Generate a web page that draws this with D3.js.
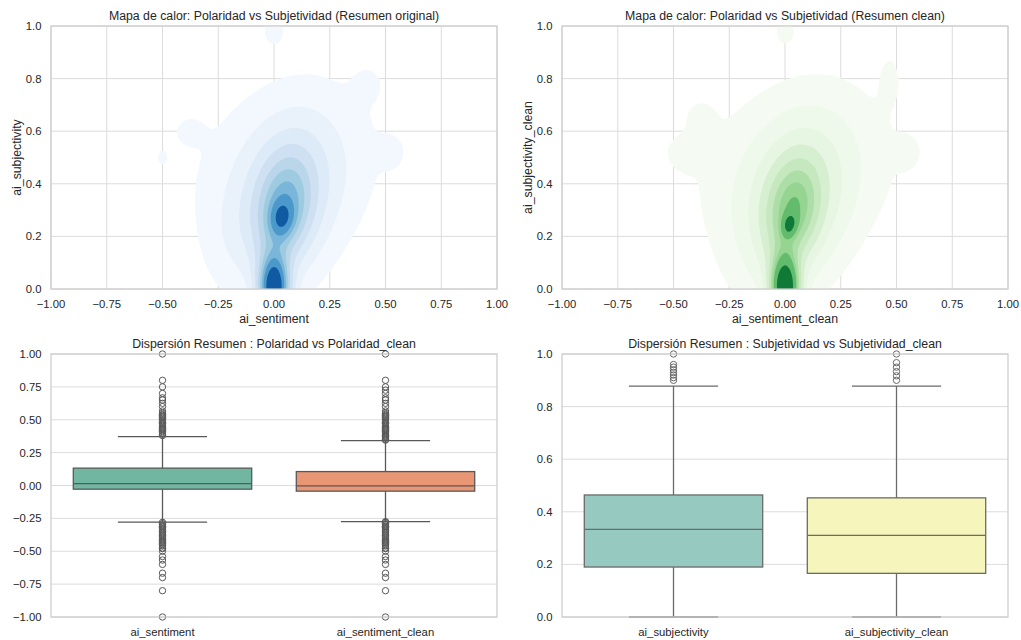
<!DOCTYPE html>
<html>
<head>
<meta charset="utf-8">
<script src="https://cdn.jsdelivr.net/npm/d3@7"></script>
<style>
  body { margin: 0; background: #ffffff; }
  text { font-family: "Liberation Sans", Arial, sans-serif; fill: #262626; }
</style>
</head>
<body>
<svg id="chart" width="1021" height="640"></svg>
<script>
// ---------- data ----------
const polarityTicks = [-1, -0.75, -0.5, -0.25, 0, 0.25, 0.5, 0.75, 1];
const subjectivityTicks = [0, 0.2, 0.4, 0.6, 0.8, 1];
const boxPolarityTicks = [-1, -0.75, -0.5, -0.25, 0, 0.25, 0.5, 0.75, 1];
const boxSubjectivityTicks = [0, 0.2, 0.4, 0.6, 0.8, 1];

// Bivariate density of (polarity, subjectivity) as Gaussian components:
// [centerX, centerY, spreadX, spreadY, correlation, weight]
const densityOriginal = [
  [0.000, 0.000, 0.046, 0.090, 0.0, 0.170],
  [0.000, 0.010, 0.028, 0.055, 0.0, 0.030],
  [0.035, 0.270, 0.034, 0.045, 0.1, 0.030],
  [0.045, 0.300, 0.080, 0.130, 0.2, 0.200],
  [0.050, 0.350, 0.150, 0.190, 0.25, 0.330],
  [0.060, 0.470, 0.300, 0.200, 0.15, 0.120],
  [-0.20, 0.200, 0.080, 0.120, 0.0, 0.010],
  [-0.38, 0.600, 0.050, 0.040, 0.0, 0.0025],
  [0.420, 0.780, 0.050, 0.050, 0.0, 0.0031],
  [0.520, 0.520, 0.040, 0.040, 0.0, 0.0028],
  [-0.50, 0.500, 0.015, 0.020, 0.0, 0.0005],
  [0.000, 0.980, 0.035, 0.040, 0.0, 0.0026]
];
const densityClean = [
  [0.000, 0.000, 0.043, 0.087, 0.0, 0.170],
  [0.000, 0.010, 0.028, 0.055, 0.0, 0.030],
  [0.020, 0.245, 0.020, 0.028, 0.2, 0.014],
  [0.035, 0.290, 0.080, 0.130, 0.2, 0.200],
  [0.045, 0.340, 0.155, 0.190, 0.25, 0.340],
  [0.050, 0.470, 0.320, 0.200, 0.15, 0.130],
  [-0.45, 0.520, 0.060, 0.050, 0.0, 0.0040],
  [-0.38, 0.650, 0.050, 0.050, 0.0, 0.0030],
  [0.470, 0.800, 0.035, 0.070, 0.0, 0.0030],
  [0.540, 0.520, 0.040, 0.040, 0.0, 0.0028],
  [0.000, 0.980, 0.030, 0.035, 0.0, 0.0020]
];
const densityLevelCount = 10;
const densityThresh = 0.05;

// Box plot summaries
const polarityCategories = ["ai_sentiment", "ai_sentiment_clean"];
const polarityQ1 = [-0.028, -0.043];
const polarityMedian = [0.015, -0.003];
const polarityQ3 = [0.132, 0.106];
const polarityWhiskerLow = [-0.279, -0.274];
const polarityWhiskerHigh = [0.372, 0.342];
const polarityOutliersOriginal = [
  0.38, 0.39, 0.40, 0.41, 0.4167, 0.425, 0.433, 0.44, 0.45, 0.46, 0.47, 0.475, 0.48, 0.49, 0.50,
  0.51, 0.52, 0.525, 0.533, 0.54, 0.55, 0.5667, 0.60, 0.625, 0.65, 0.6667, 0.70, 0.75, 0.80, 1.00,
  -0.28, -0.29, -0.30, -0.31, -0.3125, -0.32, -0.33, -0.34, -0.35, -0.36, -0.375, -0.38, -0.39,
  -0.40, -0.41, -0.4167, -0.425, -0.433, -0.44, -0.45, -0.46, -0.475, -0.48, -0.50, -0.54,
  -0.5667, -0.60, -0.6667, -0.70, -0.80, -1.00
];
const polarityOutliersClean = [
  0.345, 0.35, 0.36, 0.37, 0.375, 0.38, 0.39, 0.40, 0.41, 0.4167, 0.425, 0.433, 0.44, 0.45, 0.46,
  0.47, 0.475, 0.48, 0.49, 0.50, 0.51, 0.52, 0.525, 0.533, 0.54, 0.55, 0.5667, 0.60, 0.625, 0.65,
  0.6667, 0.70, 0.725, 0.75, 0.80, 1.00,
  -0.275, -0.28, -0.29, -0.30, -0.31, -0.3125, -0.32, -0.33, -0.34, -0.35, -0.36, -0.375, -0.38,
  -0.39, -0.40, -0.41, -0.4167, -0.425, -0.433, -0.44, -0.45, -0.46, -0.475, -0.48, -0.50, -0.54,
  -0.5667, -0.60, -0.6667, -0.70, -0.80, -1.00
];

const subjectivityCategories = ["ai_subjectivity", "ai_subjectivity_clean"];
const subjectivityQ1 = [0.19, 0.166];
const subjectivityMedian = [0.333, 0.31];
const subjectivityQ3 = [0.464, 0.453];
const subjectivityWhiskerLow = [0.0, 0.0];
const subjectivityWhiskerHigh = [0.878, 0.878];
const subjectivityOutliersOriginal = [0.90, 0.91, 0.92, 0.93, 0.94, 0.95, 0.96, 1.00];
const subjectivityOutliersClean = [0.90, 0.917, 0.933, 0.95, 0.967, 1.00];

// ---------- styling ----------
const bluesStops = ["#f7fbff","#deebf7","#c6dbef","#9ecae1","#6baed6","#4292c6","#2171b5","#08519c","#08306b"];
const greensStops = ["#f7fcf5","#e5f5e0","#c7e9c0","#a1d99b","#74c476","#41ab5d","#238b45","#006d2c","#00441b"];
const set2Boxes = ["#71b6a1", "#e99675"];
const set3Boxes = ["#96cac1", "#f6f6bc"];
const gridColor = "#dcdcdc";
const spineColor = "#cccccc";
const titleSize = 12.3, labelSize = 12.3, tickSize = 11.3;

const svg = d3.select("#chart");

function colormap(stops) {
  return d3.scaleLinear()
    .domain(stops.map((_, i) => i / (stops.length - 1)))
    .range(stops)
    .interpolate(d3.interpolateRgb)
    .clamp(true);
}

function fmt2(v) { return d3.format(".2f")(v).replace("-", "\u2212"); }
function fmt1(v) { return d3.format(".1f")(v).replace("-", "\u2212"); }

let clipId = 0;
function frame(box) {
  const g = svg.append("g");
  const id = "clip" + (clipId++);
  g.append("clipPath").attr("id", id).append("rect")
    .attr("x", box.left).attr("y", box.top)
    .attr("width", box.right - box.left).attr("height", box.bottom - box.top);
  return { g, id };
}

function spines(g, box) {
  g.append("rect")
    .attr("x", box.left).attr("y", box.top)
    .attr("width", box.right - box.left).attr("height", box.bottom - box.top)
    .attr("fill", "none").attr("stroke", spineColor).attr("stroke-width", 1.25);
}

function title(g, box, text, y) {
  g.append("text").attr("x", (box.left + box.right) / 2).attr("y", y)
    .attr("text-anchor", "middle").attr("font-size", titleSize).text(text);
}

// ---------- KDE panels ----------
function kdePanel(box, comps, stops, titleText, xLabel, yLabel) {
  const { g, id } = frame(box);
  const x = d3.scaleLinear().domain([-1, 1]).range([box.left, box.right]);
  const y = d3.scaleLinear().domain([0, 1]).range([box.bottom, box.top]);

  // grid
  g.append("g").selectAll("line").data(polarityTicks).join("line")
    .attr("x1", d => x(d)).attr("x2", d => x(d))
    .attr("y1", box.top).attr("y2", box.bottom)
    .attr("stroke", gridColor).attr("stroke-width", 1);
  g.append("g").selectAll("line").data(subjectivityTicks).join("line")
    .attr("y1", d => y(d)).attr("y2", d => y(d))
    .attr("x1", box.left).attr("x2", box.right)
    .attr("stroke", gridColor).attr("stroke-width", 1);

  // density evaluated on a regular grid
  const x0 = -1.15, x1 = 1.15, y0 = -0.15, y1 = 1.15;
  const nx = 231, ny = 261;
  const sx = (x1 - x0) / (nx - 1), sy = (y1 - y0) / (ny - 1);
  const values = new Float64Array(nx * ny);
  for (let j = 0; j < ny; j++) {
    const yy = y1 - j * sy;
    for (let i = 0; i < nx; i++) {
      const xx = x0 + i * sx;
      let s = 0;
      for (const [cx, cy, dx, dy, r, w] of comps) {
        const u = (xx - cx) / dx, v = (yy - cy) / dy;
        const q = (u * u - 2 * r * u * v + v * v) / (1 - r * r);
        s += w / (2 * Math.PI * dx * dy * Math.sqrt(1 - r * r)) * Math.exp(-q / 2);
      }
      values[j * nx + i] = s;
    }
  }

  // iso-proportion contour levels
  const sorted = Array.from(values).sort((a, b) => b - a);
  const total = d3.sum(sorted);
  const cum = [];
  let acc = 0;
  for (const v of sorted) { acc += v; cum.push(acc / total); }
  const props = d3.range(densityLevelCount).map(k => densityThresh + k * (1 - densityThresh) / (densityLevelCount - 1));
  const levels = props.map(q => {
    const idx = d3.bisectLeft(cum, 1 - q);
    return sorted[Math.min(idx, sorted.length - 1)];
  });
  const cmap = colormap(stops);
  const lo = levels[0], hi = levels[levels.length - 1];
  const bands = levels.slice(0, -1).map((lv, k) => ({
    value: lv,
    color: cmap(((lv + levels[k + 1]) / 2 - lo) / (hi - lo))
  }));

  const proj = d3.geoTransform({
    point: function (px, py) {
      this.stream.point(x(x0 + (px - 0.5) * sx), y(y1 - (py - 0.5) * sy));
    }
  });
  const path = d3.geoPath(proj);
  const contours = d3.contours().size([nx, ny]).thresholds(bands.map(b => b.value))(values);

  g.append("g").attr("clip-path", `url(#${id})`)
    .selectAll("path").data(contours).join("path")
    .attr("d", path)
    .attr("fill", (d, k) => bands[k].color)
    .attr("stroke", "none");

  spines(g, box);

  // tick labels
  g.append("g").selectAll("text").data(polarityTicks).join("text")
    .attr("x", d => x(d)).attr("y", box.bottom + 19)
    .attr("text-anchor", "middle").attr("font-size", tickSize).text(fmt2);
  g.append("g").selectAll("text").data(subjectivityTicks).join("text")
    .attr("x", box.left - 9.5).attr("y", d => y(d) + 4)
    .attr("text-anchor", "end").attr("font-size", tickSize).text(fmt1);

  g.append("text").attr("x", (box.left + box.right) / 2).attr("y", box.bottom + 33.5)
    .attr("text-anchor", "middle").attr("font-size", labelSize).text(xLabel);
  const cy = (box.top + box.bottom) / 2;
  g.append("text").attr("transform", `translate(${box.left - 30},${cy}) rotate(-90)`)
    .attr("text-anchor", "middle").attr("font-size", labelSize).text(yLabel);

  title(g, box, titleText, box.top - 6);
}

// ---------- box panels ----------
function boxPanel(box, cats, q1, med, q3, wlo, whi, outliers, domain, ticks, tickFmt, fills, lineColor, titleText) {
  const { g } = frame(box);
  const x = d3.scaleBand().domain(cats).range([box.left, box.right]).paddingInner(0).paddingOuter(0);
  const y = d3.scaleLinear().domain(domain).range([box.bottom, box.top]);

  g.append("g").selectAll("line").data(ticks).join("line")
    .attr("y1", d => y(d)).attr("y2", d => y(d))
    .attr("x1", box.left).attr("x2", box.right)
    .attr("stroke", gridColor).attr("stroke-width", 1);

  const bw = x.bandwidth();
  cats.forEach((c, k) => {
    const cx = x(c) + bw / 2;
    const half = bw * 0.4;
    const cap = bw * 0.2;
    const lw = 1.3;
    // whiskers and caps
    g.append("line").attr("x1", cx).attr("x2", cx).attr("y1", y(q3[k])).attr("y2", y(whi[k]))
      .attr("stroke", lineColor).attr("stroke-width", lw);
    g.append("line").attr("x1", cx).attr("x2", cx).attr("y1", y(q1[k])).attr("y2", y(wlo[k]))
      .attr("stroke", lineColor).attr("stroke-width", lw);
    g.append("line").attr("x1", cx - cap).attr("x2", cx + cap).attr("y1", y(whi[k])).attr("y2", y(whi[k]))
      .attr("stroke", lineColor).attr("stroke-width", lw);
    g.append("line").attr("x1", cx - cap).attr("x2", cx + cap).attr("y1", y(wlo[k])).attr("y2", y(wlo[k]))
      .attr("stroke", lineColor).attr("stroke-width", lw);
    // box and median
    g.append("rect").attr("x", cx - half).attr("width", half * 2)
      .attr("y", y(q3[k])).attr("height", y(q1[k]) - y(q3[k]))
      .attr("fill", fills[k]).attr("stroke", lineColor).attr("stroke-width", lw);
    g.append("line").attr("x1", cx - half).attr("x2", cx + half).attr("y1", y(med[k])).attr("y2", y(med[k]))
      .attr("stroke", lineColor).attr("stroke-width", lw);
    // fliers
    g.append("g").selectAll("circle").data(outliers[k]).join("circle")
      .attr("cx", cx).attr("cy", d => y(d)).attr("r", 3.2)
      .attr("fill", "none").attr("stroke", lineColor).attr("stroke-width", 1);
  });

  spines(g, box);

  g.append("g").selectAll("text").data(cats).join("text")
    .attr("x", d => x(d) + bw / 2).attr("y", box.bottom + 19)
    .attr("text-anchor", "middle").attr("font-size", tickSize).text(d => d);
  g.append("g").selectAll("text").data(ticks).join("text")
    .attr("x", box.left - 9.5).attr("y", d => y(d) + 4)
    .attr("text-anchor", "end").attr("font-size", tickSize).text(tickFmt);

  title(g, box, titleText, box.top - 6);
}

const topLeft = { left: 51, right: 497, top: 26, bottom: 289 };
const topRight = { left: 562, right: 1008, top: 26, bottom: 289 };
const botLeft = { left: 51, right: 497, top: 354, bottom: 617 };
const botRight = { left: 562, right: 1008, top: 354, bottom: 617 };

kdePanel(topLeft, densityOriginal, bluesStops,
  "Mapa de calor: Polaridad vs Subjetividad (Resumen original)", "ai_sentiment", "ai_subjectivity");
kdePanel(topRight, densityClean, greensStops,
  "Mapa de calor: Polaridad vs Subjetividad (Resumen clean)", "ai_sentiment_clean", "ai_subjectivity_clean");

boxPanel(botLeft, polarityCategories, polarityQ1, polarityMedian, polarityQ3,
  polarityWhiskerLow, polarityWhiskerHigh, [polarityOutliersOriginal, polarityOutliersClean],
  [-1, 1], boxPolarityTicks, fmt2, set2Boxes, "#595959",
  "Dispersión Resumen : Polaridad vs Polaridad_clean");
boxPanel(botRight, subjectivityCategories, subjectivityQ1, subjectivityMedian, subjectivityQ3,
  subjectivityWhiskerLow, subjectivityWhiskerHigh, [subjectivityOutliersOriginal, subjectivityOutliersClean],
  [0, 1], boxSubjectivityTicks, fmt1, set3Boxes, "#6a6a6a",
  "Dispersión Resumen : Subjetividad vs Subjetividad_clean");
</script>
</body>
</html>
